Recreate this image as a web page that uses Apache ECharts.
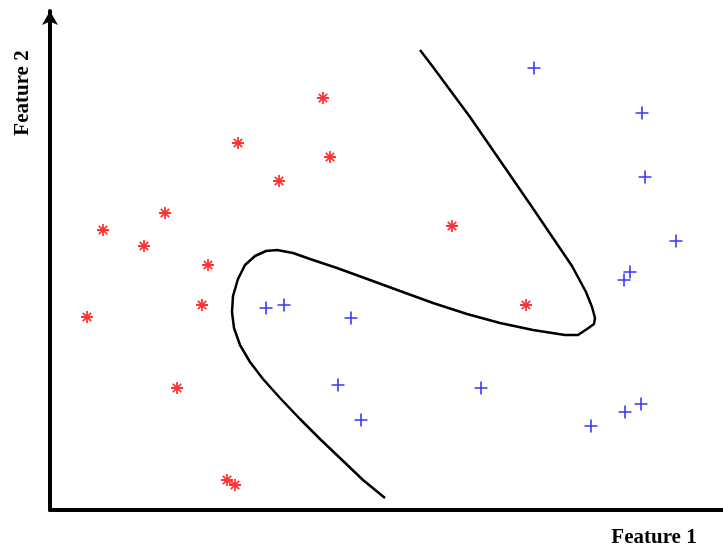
<!DOCTYPE html>
<html><head><meta charset="utf-8">
<script src="https://cdn.jsdelivr.net/npm/echarts@6/dist/echarts.min.js"></script>
<style>html,body{margin:0;padding:0;background:#fff}#c{width:723px;height:548px}</style>
</head><body><div id="c"></div>
<script>
// Data in plot units: x = horizontal offset from y-axis, y = height above x-axis
const classA = [ // red asterisks
  [273,412],[188,367],[280,353],[229,329],[115,297],[53,280],[94,264],[158,245],
  [402,284],[37,193],[152,205],[476,205],[127,122],[177,30],[185,25]
];
const classB = [ // blue plus
  [484,442],[592,397],[595,333],[626,269],[580,238],[574,230],[216,202],[234,205],
  [301,192],[288,125],[431,122],[311,90],[541,84],[575,98],[591,106]
];
const boundary = [
  [370,460],[383,443],[400,420],[420,393],[440,364],[460,335],[482,303],[503,272],
  [522,244],[536,218],[542,203],[545,192],[544,186],[537,181],[528,175],[515,175],
  [483,180],[450,187],[417,196],[383,207],[350,219],[320,230],[287,242],[260,251],
  [243,257],[227,260],[216,259],[205,254],[195,245],[188,231],[183,214],[182,198],
  [184,182],[190,165],[200,148],[213,131],[230,112],[250,91],[270,71],[291,51],
  [313,30],[335,12]
];
const axisNames = ['Feature 1', 'Feature 2'];

const chart = echarts.init(document.getElementById('c'), null, {renderer:'canvas'});
const asterisk = 'path://M6,0L6,12M0,6L12,6M1.8,1.8L10.2,10.2M10.2,1.8L1.8,10.2';
const plus = 'path://M6,0L6,12M0,6L12,6';
chart.setOption({
  animation:false,
  grid:{left:50,right:0,top:11,bottom:38},
  xAxis:{type:'value',min:0,max:673,
    axisLine:{show:true,symbol:'none',lineStyle:{color:'#000',width:4}},
    axisTick:{show:false},axisLabel:{show:false},splitLine:{show:false}},
  yAxis:{type:'value',min:0,max:499,
    axisLine:{show:true,symbol:['none','arrow'],symbolSize:[12,14],lineStyle:{color:'#000',width:4}},
    axisTick:{show:false},axisLabel:{show:false},splitLine:{show:false}},
  graphic:[
    {type:'text',x:654,y:538,style:{text:axisNames[0],font:'bold 21px "Liberation Serif"',fill:'#000',align:'center',verticalAlign:'middle'}},
    {type:'text',x:23,y:93,rotation:Math.PI/2,style:{text:axisNames[1],font:'bold 21px "Liberation Serif"',fill:'#000',align:'center',verticalAlign:'middle'}}
  ],
  series:[
    {type:'line',data:boundary,showSymbol:false,symbol:'none',smooth:false,
     lineStyle:{color:'#000',width:2.5},z:1},
    {type:'scatter',data:classA,symbol:asterisk,symbolSize:12,
     itemStyle:{color:'none',borderColor:'#ff0000',borderWidth:1.8},z:3},
    {type:'scatter',data:classB,symbol:plus,symbolSize:13,
     itemStyle:{color:'none',borderColor:'#0000ff',borderWidth:1.6},z:3}
  ]
});
</script></body></html>
